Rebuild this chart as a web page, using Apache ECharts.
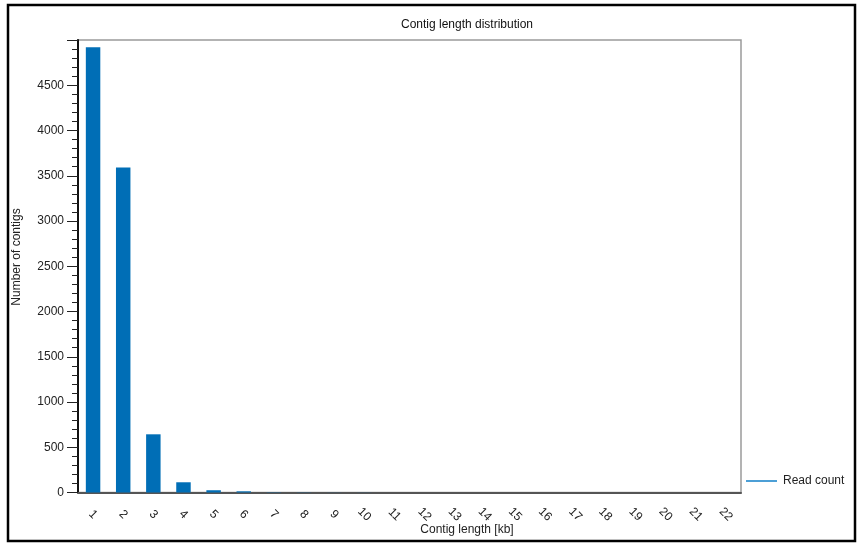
<!DOCTYPE html>
<html>
<head>
<meta charset="utf-8">
<script src="https://cdn.jsdelivr.net/npm/echarts@6/dist/echarts.min.js"></script>
<style>
  html, body { margin: 0; padding: 0; background: #fff; }
  #chart { width: 858px; height: 544px; }
</style>
</head>
<body>
<div id="chart"></div>
<script>
// Contig length bins (kb) and number of contigs per bin
const lengthBins = ['1','2','3','4','5','6','7','8','9','10','11','12','13','14','15','16','17','18','19','20','21','22'];
const contigCounts = [4920, 3590, 643, 113, 25, 13, 3, 2, 1, 1, 0, 0, 0, 0, 0, 0, 0, 0, 0, 0, 0, 0];
const seriesName = 'Read count';
const chartTitle = 'Contig length distribution';
const xTitle = 'Contig length [kb]';
const yTitle = 'Number of contigs';

const FONT = '"Liberation Sans", Arial, sans-serif';
const chart = echarts.init(document.getElementById('chart'), null, { renderer: 'canvas' });

chart.setOption({
  animation: false,
  backgroundColor: '#fff',
  textStyle: { fontFamily: FONT },
  grid: {
    left: 78, top: 40, right: 117, bottom: 51.5,
    show: true, borderColor: '#9a9a9a', borderWidth: 1.5
  },
  legend: {
    data: [{ name: seriesName, itemStyle: { color: '#4c9fd6', borderWidth: 0 } }],
    left: 746, top: 475, padding: 0, itemGap: 0,
    icon: 'rect', itemWidth: 31, itemHeight: 2,
    textStyle: { fontFamily: FONT, fontSize: 12, color: '#222', padding: [0, 0, 0, 1] }
  },
  xAxis: {
    type: 'category',
    data: lengthBins,
    boundaryGap: true,
    axisLine: { lineStyle: { color: '#555', width: 2 } },
    axisTick: { show: false },
    axisLabel: {
      interval: 0, rotate: -45, margin: 22,
      align: 'center', verticalAlign: 'middle',
      fontFamily: FONT, fontSize: 12, color: '#222'
    },
    splitLine: { show: false }
  },
  yAxis: {
    type: 'value',
    min: 0, max: 5000, interval: 500,
    axisLine: { show: true, lineStyle: { color: '#111', width: 2 } },
    axisTick: { show: true, inside: false, length: 11, lineStyle: { color: '#222', width: 1 } },
    minorTick: { show: true, splitNumber: 5, length: 6, lineStyle: { color: '#222', width: 1 } },
    axisLabel: {
      margin: 14, fontFamily: FONT, fontSize: 12, color: '#222',
      formatter: v => (v === 5000 ? '' : String(v))
    },
    splitLine: { show: false }
  },
  series: [{
    name: seriesName,
    type: 'bar',
    data: contigCounts,
    barWidth: '48%',
    itemStyle: { color: '#006eb6', borderWidth: 0 }
  }],
  graphic: [
    { type: 'rect', shape: { x: 8, y: 5, width: 847, height: 536 },
      style: { fill: 'none', stroke: '#000', lineWidth: 2.5 }, z: 100 },
    { type: 'text', x: 467, y: 25,
      style: { text: chartTitle, font: '12px ' + FONT, fill: '#111', textAlign: 'center', textVerticalAlign: 'middle' } },
    { type: 'text', x: 467, y: 530,
      style: { text: xTitle, font: '12px ' + FONT, fill: '#222', textAlign: 'center', textVerticalAlign: 'middle' } },
    { type: 'text', x: 17, y: 257, rotation: Math.PI / 2,
      style: { text: yTitle, font: '12px ' + FONT, fill: '#222', textAlign: 'center', textVerticalAlign: 'middle' } }
  ]
});
</script>
</body>
</html>
